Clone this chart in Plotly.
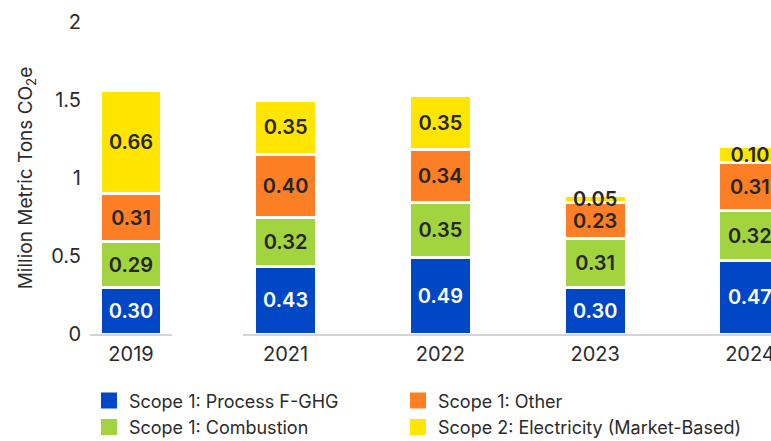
import plotly.graph_objects as go

YEARS = ["2019", "2021", "2022", "2023", "2024"]
PROCESS_FGHG = [0.30, 0.43, 0.49, 0.30, 0.47]
COMBUSTION = [0.29, 0.32, 0.35, 0.31, 0.32]
OTHER = [0.31, 0.40, 0.34, 0.23, 0.31]
ELECTRICITY = [0.66, 0.35, 0.35, 0.05, 0.10]

# name, values, bar colour, label colour, legend column
SERIES = [
    ("Scope 1: Process F-GHG", PROCESS_FGHG, "#0047C6", "#ffffff", "legend"),
    ("Scope 1: Combustion", COMBUSTION, "#A2D43F", "#262626", "legend"),
    ("Scope 1: Other", OTHER, "#FD7F25", "#262626", "legend2"),
    ("Scope 2: Electricity (Market-Based)", ELECTRICITY, "#FFE500", "#262626", "legend2"),
]

FONT = "Inter, 'Open Sans', sans-serif"
TEXT_COLOR = "#2b2b2b"

fig = go.Figure()

# 2019 sits on its own little axis, 2021+ on the second one (2020 left out)
groups = [("x", slice(0, 1)), ("x2", slice(1, None))]

for name, values, color, text_color, legend_id in SERIES:
    for axis, sl in groups:
        vals = values[sl]
        fig.add_trace(
            go.Bar(
                x=YEARS[sl],
                y=vals,
                xaxis=axis,
                yaxis="y",
                name=name,
                marker=dict(color=color, line=dict(color="white", width=3)),
                text=[f"{v:.2f}" for v in vals],
                textposition="inside",
                insidetextanchor="middle",
                constraintext="none",
                textfont=dict(family=FONT, size=20, color=text_color, weight=600),
                showlegend=False,
                hoverinfo="skip",
            )
        )
    # legend swatch only, one group each so tracegroupgap spaces the rows
    fig.add_trace(
        go.Scatter(
            x=[None],
            y=[None],
            mode="markers",
            name=name,
            marker=dict(symbol="square", size=16, color=color),
            legend=legend_id,
            legendgroup=name,
            showlegend=True,
            hoverinfo="skip",
        )
    )

axis_common = dict(
    type="category",
    showline=True,
    linecolor="#d4d4d4",
    linewidth=2,
    showgrid=False,
    tickfont=dict(size=20, color=TEXT_COLOR),
    ticks="",
    ticklabelstandoff=1,
    anchor="y",
    automargin=False,
)

legend_common = dict(
    orientation="v",
    xanchor="left",
    y=-0.155,
    yanchor="top",
    font=dict(size=18, color=TEXT_COLOR),
    bgcolor="rgba(0,0,0,0)",
    traceorder="normal",
    tracegroupgap=3,
)

fig.update_layout(
    width=771,
    height=441,
    margin=dict(l=90, r=0, t=22, b=107, autoexpand=False),
    barmode="stack",
    bargap=0.6,
    plot_bgcolor="white",
    paper_bgcolor="white",
    font=dict(family=FONT, color=TEXT_COLOR),
    xaxis=dict(domain=[0, 0.1204], range=[-0.265, 0.265], **axis_common),
    xaxis2=dict(domain=[0.2247, 1], range=[-0.275, 3.136], **axis_common),
    yaxis=dict(
        range=[0, 2],
        dtick=0.5,
        showgrid=False,
        zeroline=False,
        showline=False,
        automargin=False,
        tickfont=dict(size=20, color=TEXT_COLOR),
        ticklabelstandoff=8,
        title=dict(
            text="Million Metric Tons CO<sub>2</sub>e",
            font=dict(size=19, color=TEXT_COLOR),
            standoff=13,
        ),
    ),
    legend=dict(x=-0.0015, **legend_common),
    legend2=dict(x=0.4523, **legend_common),
)

# drop the default body margin so the figure fills the window exactly
fig.write_html(
    "out.html",
    config={"displayModeBar": False},
    post_script="document.body.style.margin = '0px';",
)
